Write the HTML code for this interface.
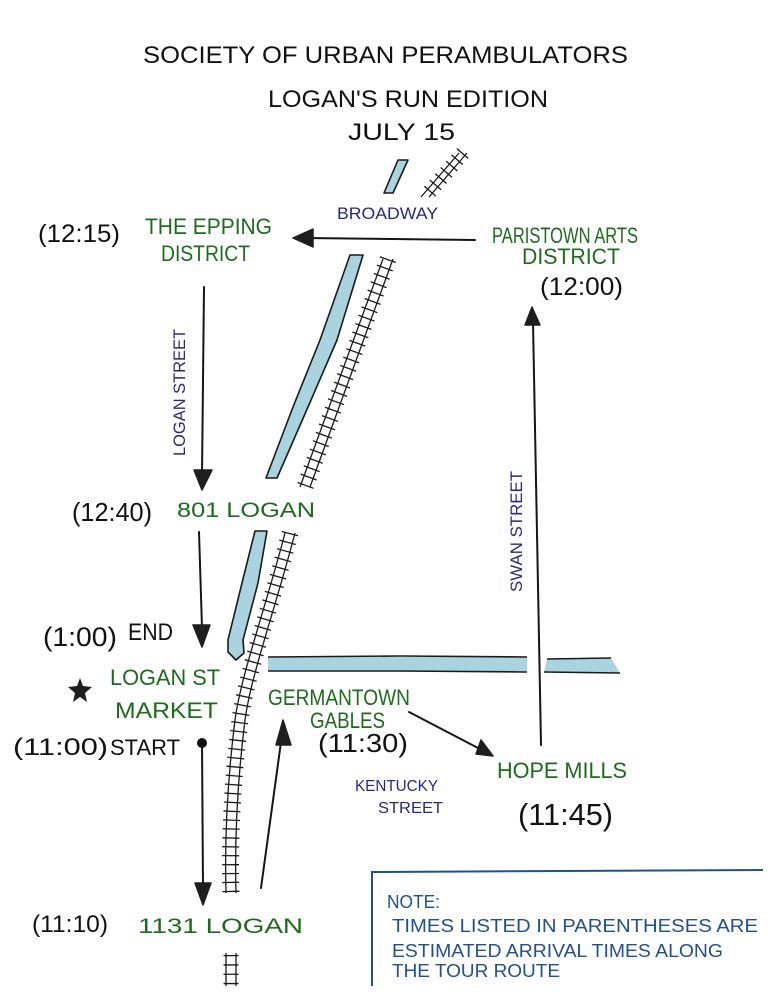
<!DOCTYPE html>
<html>
<head>
<meta charset="utf-8">
<style>
  html, body { margin:0; padding:0; background:#fff; }
  svg { display:block; }
  text { font-family: "Liberation Sans", "DejaVu Sans", sans-serif; }
  .blk { fill:#111; }
  .grn { fill:#1e6a1e; }
  .nvy { fill:#262a7e; }
  .nte { fill:#22508f; }
</style>
</head>
<body>
<svg width="780" height="1000" viewBox="0 0 780 1000" xmlns="http://www.w3.org/2000/svg">
  <rect x="0" y="0" width="780" height="1000" fill="#ffffff"/>

  <!-- Title -->
  <text class="blk" x="143" y="63" font-size="24" textLength="485" lengthAdjust="spacingAndGlyphs">SOCIETY OF URBAN PERAMBULATORS</text>
  <text class="blk" x="268" y="107" font-size="24" textLength="280" lengthAdjust="spacingAndGlyphs">LOGAN'S RUN EDITION</text>
  <text class="blk" x="348" y="140" font-size="24" textLength="107" lengthAdjust="spacingAndGlyphs">JULY 15</text>

  <!-- Rivers -->
  <g fill="#a9d3de" stroke="#1a1a1a" stroke-width="1.6" stroke-linejoin="round">
    <polygon points="398,160 408,160 393,193 384,193"/>
    <polygon points="350,255 363,255 337,340 308,407 277,478 266,478 293,407 320,340"/>
    <polygon points="255,531 267,531 258,583 243,640 244,653 236,660 228,652 228,640 242,583"/>
  </g>
  <!-- horizontal creek -->
  <rect x="268" y="657" width="259" height="14" fill="#a9d3de"/>
  <path d="M268,657 L400,656 L527,657" fill="none" stroke="#1a1a1a" stroke-width="1.6"/>
  <path d="M268,671 L400,671 L527,672" fill="none" stroke="#1a1a1a" stroke-width="1.6"/>
  <polygon points="547,659 611,658 620,673 544,672" fill="#a9d3de"/>
  <path d="M547,659 L611,658" fill="none" stroke="#1a1a1a" stroke-width="1.6"/>
  <path d="M544,672 L620,673" fill="none" stroke="#1a1a1a" stroke-width="1.6"/>

  <!-- Railroad tracks -->
  <g fill="none" stroke="#1a1a1a">
    <!-- top small -->
    <path d="M463,153 L425,197" stroke-width="15" stroke-dasharray="1.3 7"/>
    <path d="M459,153 L421,197" stroke-width="1.3"/>
    <path d="M467,153 L429,197" stroke-width="1.3"/>
    <!-- main upper -->
    <path d="M388,259 L305,487" stroke-width="17" stroke-dasharray="1.3 7.6"/>
    <path d="M383,259 L300,487" stroke-width="1.3"/>
    <path d="M393,259 L310,487" stroke-width="1.3"/>
    <!-- main lower -->
    <path d="M290,533 C270,610 246,675 240,720 C235,760 229,820 231,893" stroke-width="17" stroke-dasharray="1.3 7.6"/>
    <path d="M285,533 C265,610 241,675 235,720 C230,760 224,820 226,893" stroke-width="1.3"/>
    <path d="M295,533 C275,610 251,675 245,720 C240,760 234,820 236,893" stroke-width="1.3"/>
    <!-- bottom small -->
    <path d="M231,955 L231,986" stroke-width="15" stroke-dasharray="1.3 8"/>
    <path d="M226,953 L226,986" stroke-width="1.3"/>
    <path d="M236,953 L236,986" stroke-width="1.3"/>
  </g>

  <!-- Route lines -->
  <g fill="none" stroke="#151515" stroke-width="2" stroke-linecap="round">
    <path d="M475,240 L305,238"/>
    <path d="M204,287 L202,475"/>
    <path d="M199,532 L202,628"/>
    <path d="M202,743 L203,886"/>
    <path d="M261,888 L281,742"/>
    <path d="M409,712 L478,748"/>
    <path d="M541,745 L533,322"/>
  </g>
  <g fill="#1e1e1e" stroke="#1e1e1e" stroke-width="1.5" stroke-linejoin="round">
    <polygon points="293,238 313,229 313,247"/>
    <polygon points="202,490 194,470 212,470"/>
    <polygon points="202,647 193,625 210,625"/>
    <polygon points="203,905 195,883 211,883"/>
    <polygon points="283,720 276,745 291,745"/>
    <polygon points="493,756 476,754 481,740"/>
    <polygon points="532,307 525,325 540,325"/>
  </g>
  <circle cx="202" cy="743" r="5" fill="#111"/>
  <!-- star -->
  <polygon fill="#1e1e1e" points="80,678 83,686 92,687 85,693 87,702 80,697 73,702 75,693 68,687 77,686"/>

  <!-- Labels -->
  <text class="blk" x="38" y="242" font-size="25" textLength="82" lengthAdjust="spacingAndGlyphs">(12:15)</text>
  <text class="grn" x="145" y="234" font-size="22" textLength="127" lengthAdjust="spacingAndGlyphs">THE EPPING</text>
  <text class="grn" x="161" y="261" font-size="22" textLength="89" lengthAdjust="spacingAndGlyphs">DISTRICT</text>

  <text class="nvy" x="337" y="219" font-size="17" textLength="101" lengthAdjust="spacingAndGlyphs">BROADWAY</text>

  <text class="grn" x="492" y="243" font-size="22" textLength="146" lengthAdjust="spacingAndGlyphs">PARISTOWN ARTS</text>
  <text class="grn" x="522" y="264" font-size="22" textLength="98" lengthAdjust="spacingAndGlyphs">DISTRICT</text>
  <text class="blk" x="540" y="295" font-size="25" textLength="83" lengthAdjust="spacingAndGlyphs">(12:00)</text>

  <text class="nvy" transform="translate(185,393) rotate(-90)" x="-63" y="0" font-size="17" textLength="127" lengthAdjust="spacingAndGlyphs">LOGAN STREET</text>
  <text class="nvy" transform="translate(522,532) rotate(-90)" x="-60" y="0" font-size="17" textLength="121" lengthAdjust="spacingAndGlyphs">SWAN STREET</text>

  <text class="blk" x="72" y="521" font-size="26" textLength="80" lengthAdjust="spacingAndGlyphs">(12:40)</text>
  <text class="grn" x="177" y="517" font-size="21" textLength="138" lengthAdjust="spacingAndGlyphs">801 LOGAN</text>

  <text class="blk" x="43" y="646" font-size="27" textLength="74" lengthAdjust="spacingAndGlyphs">(1:00)</text>
  <text class="blk" x="128" y="640" font-size="24" textLength="45" lengthAdjust="spacingAndGlyphs">END</text>

  <text class="grn" x="110" y="685" font-size="22" textLength="110" lengthAdjust="spacingAndGlyphs">LOGAN ST</text>
  <text class="grn" x="115" y="718" font-size="22" textLength="103" lengthAdjust="spacingAndGlyphs">MARKET</text>

  <text class="blk" x="13" y="755" font-size="24" textLength="95" lengthAdjust="spacingAndGlyphs">(11:00)</text>
  <text class="blk" x="110" y="755" font-size="22" textLength="70" lengthAdjust="spacingAndGlyphs">START</text>

  <text class="grn" x="268" y="705" font-size="22" textLength="142" lengthAdjust="spacingAndGlyphs">GERMANTOWN</text>
  <text class="grn" x="310" y="728" font-size="22" textLength="75" lengthAdjust="spacingAndGlyphs">GABLES</text>
  <text class="blk" x="318" y="752" font-size="26" textLength="90" lengthAdjust="spacingAndGlyphs">(11:30)</text>

  <text class="nvy" x="355" y="791" font-size="16" textLength="83" lengthAdjust="spacingAndGlyphs">KENTUCKY</text>
  <text class="nvy" x="378" y="813" font-size="16" textLength="65" lengthAdjust="spacingAndGlyphs">STREET</text>

  <text class="grn" x="497" y="778" font-size="22" textLength="130" lengthAdjust="spacingAndGlyphs">HOPE MILLS</text>
  <text class="blk" x="518" y="825" font-size="31" textLength="95" lengthAdjust="spacingAndGlyphs">(11:45)</text>

  <text class="blk" x="32" y="932" font-size="24" textLength="76" lengthAdjust="spacingAndGlyphs">(11:10)</text>
  <text class="grn" x="138" y="933" font-size="21" textLength="165" lengthAdjust="spacingAndGlyphs">1131 LOGAN</text>

  <!-- Note box -->
  <path d="M763,870 L372,872 L372,986" fill="none" stroke="#22508f" stroke-width="2"/>
  <text class="nte" x="387" y="908" font-size="18" textLength="53" lengthAdjust="spacingAndGlyphs">NOTE:</text>
  <text class="nte" x="392" y="932" font-size="18" textLength="366" lengthAdjust="spacingAndGlyphs">TIMES LISTED IN PARENTHESES ARE</text>
  <text class="nte" x="392" y="957" font-size="18" textLength="331" lengthAdjust="spacingAndGlyphs">ESTIMATED ARRIVAL TIMES ALONG</text>
  <text class="nte" x="392" y="977" font-size="18" textLength="168" lengthAdjust="spacingAndGlyphs">THE TOUR ROUTE</text>
</svg>
</body>
</html>
